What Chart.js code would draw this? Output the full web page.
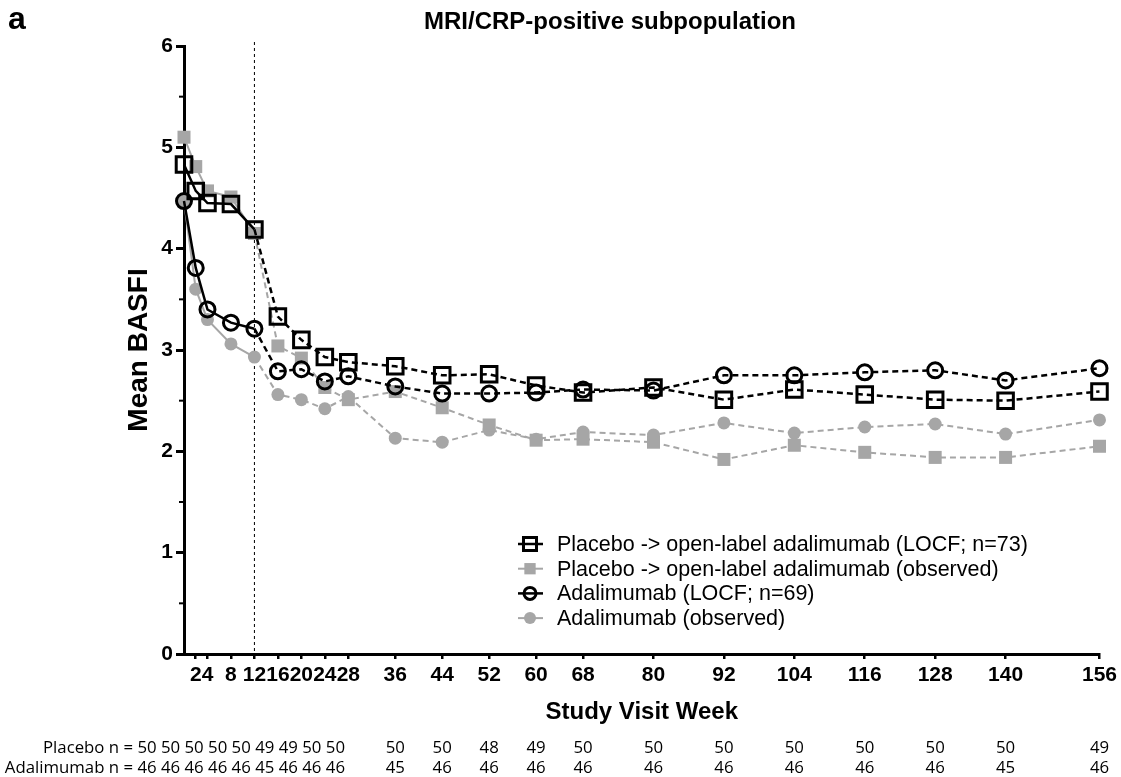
<!DOCTYPE html>
<html>
<head>
<meta charset="utf-8">
<script src="https://cdn.jsdelivr.net/npm/chart.js@4.4.0/dist/chart.umd.min.js"></script>
<style>
  html, body { margin: 0; padding: 0; background: #fff; }
  #wrap { width: 1121px; height: 777px; }
</style>
</head>
<body>
<div id="wrap"><canvas id="grafico_basfi"></canvas></div>
<script>
// semanas de visita (eixo x)
const weeks = [0, 2, 4, 8, 12, 16, 20, 24, 28, 36, 44, 52, 60, 68, 80, 92, 104, 116, 128, 140, 156]

// BASFI médio por grupo
const placeboLocf = [4.83, 4.57, 4.45, 4.44, 4.19, 3.33, 3.10, 2.93, 2.88, 2.84, 2.75, 2.76, 2.65, 2.58, 2.63, 2.51, 2.61, 2.56, 2.51, 2.50, 2.59]
const placeboObs = [5.10, 4.81, 4.57, 4.51, 4.15, 3.04, 2.92, 2.63, 2.51, 2.59, 2.43, 2.26, 2.11, 2.12, 2.09, 1.92, 2.06, 1.99, 1.94, 1.94, 2.05]
const adaLocf = [4.47, 3.81, 3.40, 3.27, 3.21, 2.79, 2.81, 2.69, 2.74, 2.64, 2.57, 2.57, 2.58, 2.61, 2.60, 2.75, 2.75, 2.78, 2.80, 2.70, 2.82]
const adaObs = [4.47, 3.60, 3.30, 3.06, 2.93, 2.56, 2.51, 2.42, 2.54, 2.13, 2.09, 2.21, 2.12, 2.19, 2.16, 2.28, 2.18, 2.24, 2.27, 2.17, 2.31]

// n por visita
const placeboN = [50, 50, 50, 50, 50, 49, 49, 50, 50, 50, 50, 48, 49, 50, 50, 50, 50, 50, 50, 50, 49]
const adaN = [46, 46, 46, 46, 46, 45, 46, 46, 46, 45, 46, 46, 46, 46, 46, 46, 46, 46, 46, 45, 46]

const labels = [
    'Placebo -> open-label adalimumab (LOCF; n=73)',
    'Placebo -> open-label adalimumab (observed)',
    'Adalimumab (LOCF; n=69)',
    'Adalimumab (observed)'
]
const yTicks = [0, 1, 2, 3, 4, 5, 6]
const semanaFimDuploCego = 12
const primeiraSemanaAlinhada = 36

const FONTE = '"Liberation Sans", Arial, sans-serif'
const CINZA = '#a6a6a6'

const pontos = (valores) => valores.map((v, i) => ({ x: weeks[i], y: v }))

// tracejado depois da semana 12
const tracejado = (ctx) => ctx.p0.parsed.x >= semanaFimDuploCego ? [6, 4] : undefined

const datasets = [
    {
        label: labels[0], data: pontos(placeboLocf), order: 0,
        borderColor: '#000', borderWidth: 2.5,
        pointStyle: 'rect', pointRadius: 11, pointBorderWidth: 3,
        pointBorderColor: '#000', pointBackgroundColor: 'rgba(0,0,0,0)',
        legendRadius: 9.2
    },
    {
        label: labels[1], data: pontos(placeboObs), order: 1,
        borderColor: CINZA, borderWidth: 2,
        pointStyle: 'rect', pointRadius: 9.2, pointBorderWidth: 0,
        pointBorderColor: CINZA, pointBackgroundColor: CINZA,
        legendRadius: 8
    },
    {
        label: labels[2], data: pontos(adaLocf), order: 0,
        borderColor: '#000', borderWidth: 2.5,
        pointStyle: 'circle', pointRadius: 7.5, pointBorderWidth: 3,
        pointBorderColor: '#000', pointBackgroundColor: 'rgba(0,0,0,0)',
        legendRadius: 6
    },
    {
        label: labels[3], data: pontos(adaObs), order: 1,
        borderColor: CINZA, borderWidth: 2,
        pointStyle: 'circle', pointRadius: 6.5, pointBorderWidth: 0,
        pointBorderColor: CINZA, pointBackgroundColor: CINZA,
        legendRadius: 6
    }
].map(d => ({ ...d, tension: 0, clip: false, pointHoverRadius: d.pointRadius, segment: { borderDash: tracejado } }))

// linha da semana 12, tracinhos menores do eixo y
const fundo = {
    id: 'fundo',
    beforeDatasetsDraw(chart) {
        const { ctx, chartArea, scales: { x, y } } = chart
        ctx.save()
        const xl = x.getPixelForValue(semanaFimDuploCego)
        ctx.strokeStyle = '#000'
        ctx.lineWidth = 1
        ctx.setLineDash([3, 3])
        ctx.beginPath()
        ctx.moveTo(xl, chartArea.top - 4)
        ctx.lineTo(xl, chartArea.bottom)
        ctx.stroke()
        ctx.setLineDash([])
        ctx.lineWidth = 2
        for (let i = 0; i < yTicks.length - 1; i++) {
            const py = y.getPixelForValue(yTicks[i] + 0.5)
            ctx.beginPath()
            ctx.moveTo(chartArea.left - 5, py)
            ctx.lineTo(chartArea.left, py)
            ctx.stroke()
        }
        ctx.restore()
    }
}

// título, letra do painel, legenda e linhas de n
const extras = {
    id: 'extras',
    afterDraw(chart) {
        const { ctx, scales: { x } } = chart
        ctx.save()
        ctx.fillStyle = '#000'
        ctx.textBaseline = 'middle'

        ctx.font = 'bold 32px ' + FONTE
        ctx.textAlign = 'left'
        ctx.fillText('a', 8, 20)

        ctx.font = 'bold 24px ' + FONTE
        ctx.textAlign = 'center'
        ctx.fillText('MRI/CRP-positive subpopulation', 610, 22)

        // legenda
        const legX = 530
        const legY = 544
        const legPasso = 24.7
        chart.data.datasets.forEach((ds, i) => {
            const ly = legY + i * legPasso
            ctx.strokeStyle = ds.borderColor
            ctx.lineWidth = ds.borderWidth
            ctx.beginPath()
            ctx.moveTo(legX - 12, ly)
            ctx.lineTo(legX + 13, ly)
            ctx.stroke()
            ctx.fillStyle = ds.pointBackgroundColor
            ctx.strokeStyle = ds.pointBorderColor
            ctx.lineWidth = ds.pointBorderWidth
            Chart.helpers.drawPoint(ctx, {
                pointStyle: ds.pointStyle, rotation: 0,
                radius: ds.legendRadius, borderWidth: ds.pointBorderWidth
            }, legX, ly)
            ctx.fillStyle = '#000'
            ctx.font = '21.5px ' + FONTE
            ctx.textAlign = 'left'
            ctx.fillText(ds.label, 557, ly + 1)
        })

        // linhas de n
        ctx.font = '16.8px "Open Sans", sans-serif'
        ctx.fillStyle = '#000'
        const linhas = [['Placebo n = ', placeboN, 748], ['Adalimumab n = ', adaN, 768]]
        linhas.forEach(([rotulo, ns, ly]) => {
            const iniciais = []
            weeks.forEach((w, i) => {
                if (w < primeiraSemanaAlinhada) {
                    iniciais.push(ns[i])
                } else {
                    ctx.textAlign = 'center'
                    ctx.fillText(String(ns[i]), x.getPixelForValue(w), ly)
                }
            })
            ctx.textAlign = 'right'
            ctx.fillText(rotulo + iniciais.join(' '), 345, ly)
        })
        ctx.restore()
    }
}

const ctx = document.querySelector('#grafico_basfi')
const chart = new Chart(ctx, {
    type: 'line',
    data: { datasets },
    options: {
        responsive: true,
        maintainAspectRatio: false,
        animation: false,
        layout: { padding: { left: 0, right: 21, top: 46, bottom: 0 } },
        plugins: {
            legend: { display: false },
            title: { display: false },
            tooltip: { enabled: false }
        },
        scales: {
            x: {
                type: 'linear',
                min: weeks[0],
                max: weeks[weeks.length - 1],
                afterBuildTicks: (scale) => {
                    scale.ticks = weeks.slice(1).map(v => ({ value: v }))
                },
                afterFit: (scale) => { scale.height = 123 },
                border: { display: true, color: '#000', width: 3 },
                grid: { drawOnChartArea: false, drawTicks: true, tickLength: 5, color: '#000', lineWidth: 2.5 },
                ticks: {
                    autoSkip: false, maxRotation: 0, minRotation: 0, padding: 4,
                    color: '#000', font: { family: FONTE, size: 21, weight: 'bold' },
                    callback: (v) => String(v)
                },
                title: {
                    display: true, text: 'Study Visit Week', color: '#000',
                    font: { family: FONTE, size: 24, weight: 'bold' },
                    padding: { top: 0, bottom: 50 }
                }
            },
            y: {
                min: 0,
                max: 6,
                afterBuildTicks: (scale) => {
                    scale.ticks = yTicks.map(v => ({ value: v }))
                },
                afterFit: (scale) => { scale.width = 184 },
                border: { display: true, color: '#000', width: 3 },
                grid: { drawOnChartArea: false, drawTicks: true, tickLength: 8, color: '#000', lineWidth: 3 },
                ticks: {
                    padding: 3, color: '#000',
                    font: { family: FONTE, size: 21, weight: 'bold' }
                },
                title: {
                    display: true, text: 'Mean BASFI', color: '#000',
                    font: { family: FONTE, size: 28, weight: 'bold' },
                    padding: { top: 122, bottom: 0 }
                }
            }
        }
    },
    plugins: [fundo, extras]
})
</script>
</body>
</html>
